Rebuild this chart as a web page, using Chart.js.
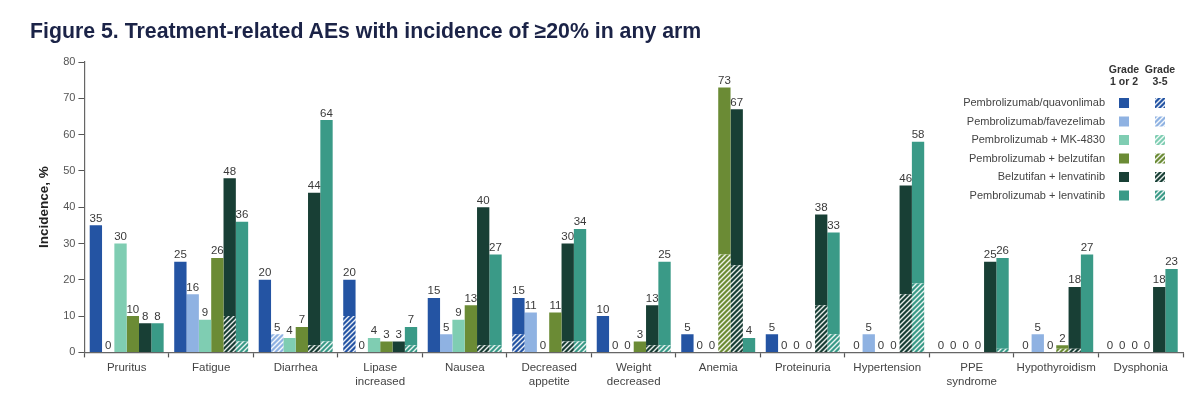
<!DOCTYPE html>
<html>
<head>
<meta charset="utf-8">
<script src="https://cdn.jsdelivr.net/npm/chart.js@4.4.1/dist/chart.umd.min.js"></script>
<style>
  html, body { margin: 0; padding: 0; background: #ffffff; }
  #wrap { position: relative; width: 1200px; height: 401px; }
  #title { position: absolute; left: 30px; top: 18px; margin: 0; font-family: "Liberation Sans", Arial, sans-serif; font-weight: bold; font-size: 21.3px; line-height: 26px; color: #1b2347; white-space: nowrap; }
  canvas { position: absolute; left: 0; top: 0; }
</style>
</head>
<body>
<div id="wrap">
  <canvas id="c" width="1200" height="401"></canvas>
  <h1 id="title">Figure 5. Treatment-related AEs with incidence of ≥20% in any arm</h1>
</div>
<script>
const categories = [
  "Pruritus", "Fatigue", "Diarrhea", ["Lipase", "increased"], "Nausea",
  ["Decreased", "appetite"], ["Weight", "decreased"], "Anemia", "Proteinuria",
  "Hypertension", ["PPE", "syndrome"], "Hypothyroidism", "Dysphonia"
];
const arms = [
  "Pembrolizumab/quavonlimab",
  "Pembrolizumab/favezelimab",
  "Pembrolizumab + MK-4830",
  "Pembrolizumab + belzutifan",
  "Belzutifan + lenvatinib",
  "Pembrolizumab + lenvatinib"
];
const armColors = ["#2454a3", "#8fb2e2", "#7fcdb2", "#6b8b35", "#183f35", "#3a9a87"];

// Total incidence (any grade), %
const totQuavonlimab = [35, 25, 20, 20, 15, 15, 10, 5, 5, 0, 0, 0, 0];
const totFavezelimab = [0, 16, 5, 0, 5, 11, 0, 0, 0, 5, 0, 5, 0];
const totMK4830      = [30, 9, 4, 4, 9, 0, 0, 0, 0, 0, 0, 0, 0];
const totBelzutifan  = [10, 26, 7, 3, 13, 11, 3, 73, 0, 0, 0, 2, 0];
const totBelzLenv    = [8, 48, 44, 3, 40, 30, 13, 67, 38, 46, 25, 18, 18];
const totPembroLenv  = [8, 36, 64, 7, 27, 34, 25, 4, 33, 58, 26, 27, 23];

// Grade 3-5 incidence (hatched portion), %
const g35Quavonlimab = [0, 0, 0, 10, 0, 5, 0, 0, 0, 0, 0, 0, 0];
const g35Favezelimab = [0, 0, 5, 0, 0, 0, 0, 0, 0, 0, 0, 0, 0];
const g35MK4830      = [0, 0, 0, 0, 0, 0, 0, 0, 0, 0, 0, 0, 0];
const g35Belzutifan  = [0, 0, 0, 0, 0, 0, 0, 27, 0, 0, 0, 1, 0];
const g35BelzLenv    = [0, 10, 2, 0, 2, 3, 2, 24, 13, 16, 0, 1, 0];
const g35PembroLenv  = [0, 3, 3, 2, 2, 3, 2, 0, 5, 19, 1, 0, 0];

const yTicks = [0, 10, 20, 30, 40, 50, 60, 70, 80];

const totals = [totQuavonlimab, totFavezelimab, totMK4830, totBelzutifan, totBelzLenv, totPembroLenv];
const grade35 = [g35Quavonlimab, g35Favezelimab, g35MK4830, g35Belzutifan, g35BelzLenv, g35PembroLenv];

const FONT = '"Liberation Sans", Arial, sans-serif';

function hatch(color) {
  const s = 5;
  const cv = document.createElement('canvas');
  cv.width = s; cv.height = s;
  const g = cv.getContext('2d');
  g.fillStyle = color;
  g.fillRect(0, 0, s, s);
  g.strokeStyle = 'rgba(255,255,255,0.9)';
  g.lineWidth = 1.4;
  g.beginPath();
  g.moveTo(-1, s + 1); g.lineTo(s + 1, -1);
  g.moveTo(-1, 1); g.lineTo(1, -1);
  g.moveTo(s - 1, s + 1); g.lineTo(s + 1, s - 1);
  g.stroke();
  return g.createPattern(cv, 'repeat');
}

const datasets = [];
arms.forEach((arm, i) => {
  datasets.push({
    label: arm + " (grade 3-5)",
    data: grade35[i],
    backgroundColor: hatch(armColors[i]),
    stack: "s" + i,
    borderWidth: 0,
    categoryPercentage: 0.875,
    barPercentage: 1.0
  });
  datasets.push({
    label: arm + " (grade 1 or 2)",
    data: totals[i].map((t, k) => t - grade35[i][k]),
    backgroundColor: armColors[i],
    stack: "s" + i,
    borderWidth: 0,
    categoryPercentage: 0.875,
    barPercentage: 1.0
  });
});

const valueLabels = {
  id: 'valueLabels',
  afterDatasetsDraw(chart) {
    const ctx = chart.ctx;
    ctx.save();
    ctx.font = '11.5px ' + FONT;
    ctx.fillStyle = '#3a3a3a';
    ctx.textAlign = 'center';
    ctx.textBaseline = 'bottom';
    arms.forEach((arm, i) => {
      const meta = chart.getDatasetMeta(i * 2 + 1);
      meta.data.forEach((el, k) => {
        ctx.fillText(String(totals[i][k]), el.x, el.y - 1);
      });
    });
    ctx.restore();
  }
};

const customLegend = {
  id: 'customLegend',
  afterDraw(chart) {
    const ctx = chart.ctx;
    ctx.save();
    const textRight = 1105, solidX = 1124, hatchX = 1160;
    ctx.font = 'bold 10.5px ' + FONT;
    ctx.fillStyle = '#333333';
    ctx.textAlign = 'center';
    ctx.textBaseline = 'middle';
    ctx.fillText('Grade', solidX, 70);
    ctx.fillText('1 or 2', solidX, 82);
    ctx.fillText('Grade', hatchX, 70);
    ctx.fillText('3-5', hatchX, 82);
    ctx.font = '11px ' + FONT;
    ctx.textAlign = 'right';
    const rows = [103, 121.5, 140, 158.5, 177, 195.5];
    arms.forEach((arm, i) => {
      const y = rows[i];
      ctx.fillStyle = '#444444';
      ctx.fillText(arm, textRight, y);
      ctx.fillStyle = armColors[i];
      ctx.fillRect(solidX - 5, y - 5, 10, 10);
      ctx.fillStyle = hatch(armColors[i]);
      ctx.fillRect(hatchX - 5, y - 5, 10, 10);
    });
    ctx.restore();
  }
};

new Chart(document.getElementById('c'), {
  type: 'bar',
  data: { labels: categories, datasets },
  options: {
    responsive: false,
    animation: false,
    layout: { padding: { left: 36, right: 17, top: 62, bottom: 8 } },
    plugins: { legend: { display: false }, tooltip: { enabled: false }, title: { display: false } },
    scales: {
      x: {
        stacked: true,
        grid: { display: true, drawOnChartArea: false, offset: true, tickLength: 5, color: '#555', tickColor: '#555', tickWidth: 1.2 },
        border: { display: true, color: '#666', width: 1.2 },
        ticks: { color: '#444', font: { family: FONT, size: 11.5 }, padding: 4, maxRotation: 0, autoSkip: false }
      },
      y: {
        stacked: true,
        min: 0, max: 80,
        afterBuildTicks(scale) { scale.ticks = yTicks.map(v => ({ value: v })); },
        grid: { display: true, drawOnChartArea: false, tickLength: 6, color: '#555', tickColor: '#555' },
        border: { display: true, color: '#666', width: 1.2 },
        ticks: { color: '#555', font: { family: FONT, size: 11 }, padding: 3 },
        title: { display: true, text: 'Incidence, %', color: '#222', font: { family: FONT, size: 13.5, weight: 'bold' }, padding: { top: 0, bottom: 8 } }
      }
    }
  },
  plugins: [valueLabels, customLegend]
});
</script>
</body>
</html>
